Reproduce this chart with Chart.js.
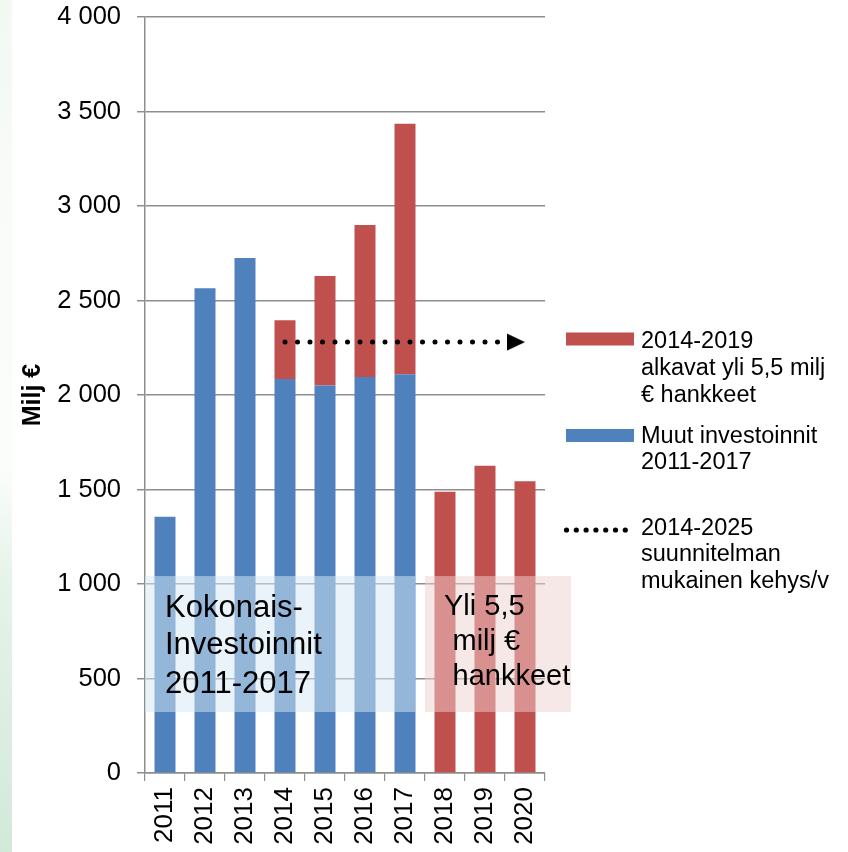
<!DOCTYPE html>
<html><head><meta charset="utf-8">
<script src="https://cdn.jsdelivr.net/npm/chart.js@4.4.1/dist/chart.umd.min.js"></script>
<style>
html,body{margin:0;padding:0;background:#fff;}
body{width:848px;height:852px;position:relative;overflow:hidden;}
#strip{position:absolute;left:0;top:0;width:12px;height:852px;
 background:linear-gradient(to bottom,#f3f8f3 0%,#fafcfa 30%,#fbfdfb 55%,#e6f3ea 68%,#d2e9da 100%);}
#wrap{position:absolute;left:0;top:0;width:848px;height:852px;}
</style></head><body>
<div id="strip"></div>
<div id="wrap"><canvas id="c" width="848" height="852"></canvas></div>
<script>
// ---- data ----
const years = ['2011','2012','2013','2014','2015','2016','2017','2018','2019','2020'];
const muutInvestoinnit = [1356, 2565, 2725, 2085, 2050, 2095, 2110, null, null, null];
const yliHankkeet      = [null, null, null, 310, 580, 805, 1325, 1488, 1626, 1543];
const kehys            = [null, null, null, 2280, 2280, 2280, 2280, 2280, 2280, 2280];
const yTicks = [0, 500, 1000, 1500, 2000, 2500, 3000, 3500, 4000];
const labelRed  = ['2014-2019', 'alkavat yli 5,5 milj', '€ hankkeet'];
const labelBlue = ['Muut investoinnit', '2011-2017'];
const labelDot  = ['2014-2025', 'suunnitelman', 'mukainen kehys/v'];
const boxBlueText = ['Kokonais-', 'Investoinnit', '2011-2017'];
const boxRedText  = ['Yli 5,5', 'milj €', 'hankkeet'];

const FONT = '"Liberation Sans", Arial, sans-serif';
const BLUE = '#4F81BD', RED = '#C0504D', GRID = '#8E8E8E';

// arrow head image: tip at image centre
const arrow = document.createElement('canvas');
arrow.width = 36; arrow.height = 18;
(function(){
  const g = arrow.getContext('2d');
  g.fillStyle = '#fff'; g.fillRect(0, 0, 18, 18);
  g.fillStyle = '#000';
  g.beginPath(); g.moveTo(0, 0.5); g.lineTo(18, 9); g.lineTo(0, 17.5); g.closePath(); g.fill();
})();

const annotationPlugin = {
  id: 'boxes',
  afterDatasetsDraw(chart) {
    const {ctx, scales:{x, y}, chartArea} = chart;
    const top = y.getPixelForValue(1042), bot = y.getPixelForValue(323);
    const half = x.getPixelForValue(1) - x.getPixelForValue(0);
    const barHalf = half * 0.525 / 2;
    const bx0 = chartArea.left, bx1 = x.getPixelForValue(6) + barHalf;
    const rx0 = x.getPixelForValue(6.5), rx1 = x.getPixelForValue(9) + half * 1.15;
    ctx.save();
    ctx.fillStyle = 'rgba(213,232,244,0.52)';
    ctx.fillRect(bx0, top, bx1 - bx0, bot - top);
    ctx.fillStyle = 'rgba(240,210,210,0.5)';
    ctx.fillRect(rx0, top, rx1 - rx0, bot - top);
    ctx.fillStyle = '#000';
    ctx.textBaseline = 'alphabetic';
    ctx.textAlign = 'left';
    ctx.font = '31px ' + FONT;
    const bOff = [40.7, 77.5, 116.7];
    boxBlueText.forEach((t, i) => ctx.fillText(t, bx0 + 20, top + bOff[i]));
    ctx.font = '29px ' + FONT;
    const rOff = [39, 74, 108.5];
    const rX = [19, 27.5, 27.5];
    boxRedText.forEach((t, i) => ctx.fillText(t, rx0 + rX[i], top + rOff[i]));
    ctx.restore();
  },
  afterDraw(chart) {
    const {ctx, chartArea} = chart;
    const lx = chartArea.right + 21, tx = chartArea.right + 96;
    ctx.save();
    ctx.font = '23.5px ' + FONT;
    ctx.fillStyle = '#000';
    ctx.textBaseline = 'alphabetic';
    ctx.textAlign = 'left';
    // red
    ctx.fillStyle = RED; ctx.fillRect(lx, 332.5, 68, 13);
    ctx.fillStyle = '#000';
    [348, 375, 402].forEach((b, i) => ctx.fillText(labelRed[i], tx, b));
    // blue
    ctx.fillStyle = BLUE; ctx.fillRect(lx, 429, 68, 13);
    ctx.fillStyle = '#000';
    [443, 469].forEach((b, i) => ctx.fillText(labelBlue[i], tx, b));
    // dotted
    for (let k = 0; k < 7; k++) {
      ctx.beginPath(); ctx.arc(lx + 0.5 + k * 9.8, 530, 2.6, 0, Math.PI * 2); ctx.fill();
    }
    [535, 561, 588].forEach((b, i) => ctx.fillText(labelDot[i], tx, b));
    ctx.restore();
  }
};

new Chart(document.getElementById('c'), {
  type: 'bar',
  data: {
    labels: years,
    datasets: [
      { type: 'line', label: labelDot.join(' '), data: kehys, stack: 'k', order: 0,
        borderColor: '#000', borderWidth: 5, borderDash: [0, 12.5], borderCapStyle: 'round',
        fill: false, tension: 0, pointStyle: arrow,
        pointRadius: c => (c.dataIndex === kehys.length - 1 ? 9 : 0),
        pointHoverRadius: 0 },
      { label: labelBlue.join(' '), data: muutInvestoinnit, backgroundColor: BLUE, stack: 's', order: 1,
        barPercentage: 0.525, categoryPercentage: 1 },
      { label: labelRed.join(' '), data: yliHankkeet, backgroundColor: RED, stack: 's', order: 2,
        barPercentage: 0.525, categoryPercentage: 1 }
    ]
  },
  options: {
    responsive: false, animation: false,
    layout: { padding: { left: 0, right: 303, top: 17, bottom: 0 } },
    plugins: { legend: { display: false }, tooltip: { enabled: false } },
    scales: {
      x: {
        stacked: true, offset: true,
        grid: { display: true, drawOnChartArea: false, drawTicks: true, tickLength: 8, color: GRID, offset: true, lineWidth: 1.2 },
        border: { color: GRID, width: 1.5 },
        ticks: { font: { family: FONT, size: 26 }, color: '#000', maxRotation: 90, minRotation: 90, padding: 6, autoSkip: false },
        afterFit(s) { s.height = 79; }
      },
      y: {
        stacked: true, min: 0, max: 4000,
        afterBuildTicks(s) { s.ticks = yTicks.map(v => ({ value: v })); },
        ticks: { font: { family: FONT, size: 25.5 }, color: '#000', padding: 16,
          callback: v => String(v).replace(/\B(?=(\d{3})+(?!\d))/g, ' ') },
        grid: { color: GRID, tickLength: 8, lineWidth: 1.5 },
        border: { color: GRID, width: 1.5 },
        title: { display: true, text: 'Milj €', color: '#000',
          font: { family: FONT, size: 25, weight: 'bold' }, padding: { top: 18, bottom: 0 } },
        afterFit(s) { s.width = 145; s.paddingTop = 0; s.paddingBottom = 0; }
      }
    }
  },
  plugins: [annotationPlugin]
});
</script>
</body></html>
